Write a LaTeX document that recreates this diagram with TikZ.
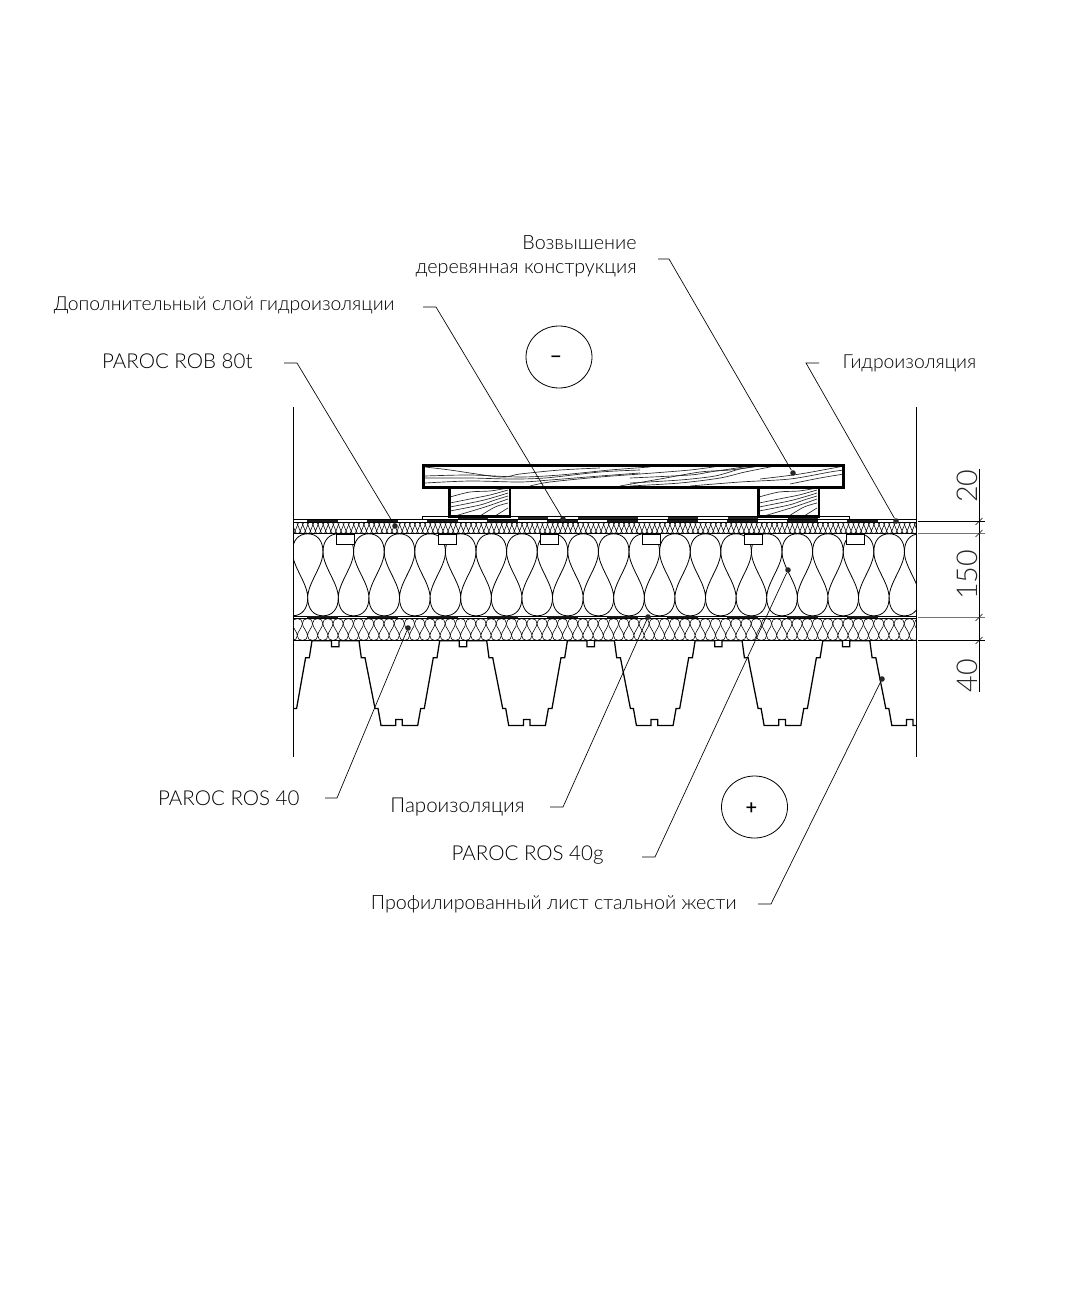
\documentclass[tikz,border=0pt]{standalone}
\usepackage{fontspec}
\setmainfont{Lato Light}
\usetikzlibrary{shapes.geometric}

\tikzset{every picture/.style={line width=0.75pt}}
\tikzset{
	label text/.style={inner sep=0pt,font=\fontsize{14.8}{18}\selectfont,color=black},
	narrow text/.style={inner sep=0pt,font=\fontsize{14.5}{18}\selectfont,color=black},
	paroc text/.style={inner sep=0pt,font=\fontsize{15.4}{18}\selectfont,color=black},
	dim text/.style={inner sep=0pt,rotate=90,font=\fontsize{21.5}{21.5}\selectfont,color=black!85},
	sign text/.style={inner sep=0pt,font=\fontsize{15}{15}\selectfont\bfseries},
	leader/.style={line width=0.5pt},
	leader dot/.style={circle,fill=black!85,inner sep=0pt,minimum size=4.2pt},
	zone/.style={ellipse,draw,line width=0.6pt,inner sep=0pt,minimum width=49.5pt,minimum height=46.5pt},
	thin line/.style={line width=0.45pt},
	wool/.style={line width=0.6pt},
	fine wool/.style={line width=0.42pt},
	grain/.style={line width=0.5pt,black!85},
	timber/.style={line width=2pt},
	deck/.style={line width=0.95pt,line join=miter},
	dim line/.style={line width=0.5pt},
}

% one row of teardrop cells, args: x start, y top, cell width, height, last cell, style
\newcommand{\woolrow}[6]{
	\begin{scope}[shift={(#1,#2)},xscale=#3,yscale=#4]
		\foreach \i in {0,...,#5} {
			\draw [#6] (\i,.78) .. controls (\i,.6) and (\i+.5,.4) .. (\i+.5,.22) .. controls (\i+.5,.08) and (\i+.3,0) .. (\i,0) .. controls (\i-.3,0) and (\i-.5,.08) .. (\i-.5,.22) .. controls (\i-.5,.4) and (\i,.6) .. (\i,.78) ;
			\draw [#6] (\i,.78) .. controls (\i,.92) and (\i+.2,1) .. (\i+.5,1) .. controls (\i+.8,1) and (\i+1,.92) .. (\i+1,.78) ;
		}
	\end{scope}
}

\begin{document}
\begin{tikzpicture}[x=0.75pt,y=0.75pt,yscale=-1,xscale=1]
	\useasboundingbox (0,0) rectangle (1089,1313);

	%Wool layers
	\begin{scope}
		\clip (293,520) rectangle (916,645);
		\woolrow{277.1}{533.8}{30.6}{82}{21}{wool}
		\woolrow{287.1}{618.6}{10.2}{21.8}{62}{fine wool}
		\woolrow{290}{522.2}{5.1}{11.3}{125}{fine wool}
	\end{scope}
	%Small boards under the top layer
	\foreach \x in {336.7,438.7,540.7,642.7,744.7,846.7}
		\draw [thin line,fill=white] (\x,533.8) rectangle ++(17.6,10.6) ;

	%Layer lines
	\draw [thin line] (293,519.3) -- (916,519.3) ;
	\draw [thin line] (293,522.2) -- (916,522.2) ;
	\draw [line width=0.9pt] (293,533.8) -- (916,533.8) ;
	\draw [thin line] (293,616) -- (916,616) ;
	\draw [thin line] (293,618.6) -- (916,618.6) ;
	\draw [line width=0.9pt] (293,640.5) -- (916,640.5) ;
	%Membrane strips
	\foreach \k in {0,...,9} {
		\fill [black!90] (306.7+60*\k,519.5) rectangle ++(31,2.2) ;
		\fill [black!90] (306.7+60*\k,615.9) rectangle ++(31,2.2) ;
	}

	%Steel deck
	\begin{scope}
		\clip (293,635) rectangle (916,730);
		\foreach \i in {0,...,5}
			\draw [deck,shift={(231.3+127.7*\i,640.7)}] (0,0) -- (2.3,17) -- (6,17) -- (16,67.7) -- (19,67.7) -- (22,84.7) -- (36.7,84.7) -- (36.7,78.7) -- (43.3,78.7) -- (43.3,84.7) -- (58.7,84.7) -- (61.7,67.7) -- (65.3,67.7) -- (74.3,17) -- (78,17) -- (80.7,0) -- (100.3,0) -- (100.3,6) -- (107.7,6) -- (107.7,0) -- (127.7,0) ;
	\end{scope}

	%Walls of the section
	\draw [line width=0.7pt] (293,407) -- (293,757) ;
	\draw [line width=0.7pt] (916,407) -- (916,757) ;

	%Base strip under the timber
	\draw [thin line,fill=white] (422.5,516.4) rectangle (849,519.3) ;
	\foreach \x in {458,518,578,608,668,728,788}
		\fill [black!85] (\x,516.8) rectangle ++(30,2) ;

	%Timber grain
	\begin{scope}
		\clip (423,465) rectangle (844,488);
		\foreach \p in {
			{(425,467) (450,470) (500,477) (520,474) (560,470) (600,468)},
			{(425,476) (470,475) (520,477) (560,475) (610,470) (650,467)},
			{(425,478) (470,478) (510,479) (545,478) (600,472) (640,470)},
			{(425,483) (470,481) (520,482) (550,480) (600,476) (640,473)},
			{(530,486) (550,482) (600,477) (640,474) (690,470) (720,466)},
			{(620,486) (660,479) (700,472) (730,470) (760,466)},
			{(630,483) (680,480) (715,476) (740,469) (760,466)},
			{(630,486) (680,483) (720,478) (745,472) (775,466)},
			{(630,478) (690,475) (710,472) (750,466)},
			{(690,486) (740,482) (790,479) (830,472) (844,470)},
			{(760,479) (800,474) (844,466)},
			{(790,484) (820,478) (844,474)}}
			\draw [grain] plot [smooth] coordinates \p ;
	\end{scope}
	\foreach \dx in {0,309} {
		\begin{scope}[xshift=\dx*0.75pt]
			\clip (449,488) rectangle (510,516);
			\foreach \p in {
				{(450,497) (470,492) (490,491) (508,488)},
				{(450,503) (475,498) (490,495) (508,490)},
				{(450,507) (480,501) (495,497) (508,493)},
				{(450,511) (480,505) (495,500) (508,496)},
				{(455,516) (485,507) (508,499)},
				{(480,516) (495,507) (508,503)},
				{(495,516) (508,508)}}
				\draw [grain] plot [smooth] coordinates \p ;
		\end{scope}
	}
	%Timber outlines
	\draw [timber] (423.5,465.5) rectangle (843.5,487.5) ;
	\draw [timber] (449.5,487.5) rectangle (510,516.5) ;
	\draw [timber] (758.5,487.5) rectangle (819,516.5) ;

	%Dimension lines
	\draw [dim line] (979,469) -- (979,692) ;
	\foreach \y/\c in {521.5/black,533.5/black!55,617.5/black!55,640.5/black} {
		\draw [dim line,color=\c] (918,\y) -- (985,\y) ;
		\draw [dim line] (975.5,\y+3.5) -- (982.5,\y-3.5) ;
	}
	% Text Node
	\node [dim text] (dimtop) at (967,486) {20};
	\node [dim text] (dimmid) at (967,575) {150};
	\node [dim text] (dimlow) at (967,675.5) {40};

	%Zones
	\node [zone] (zoneout) at (559,357) {};
	\node [zone] (zonein) at (754.5,807) {};
	\node [sign text] (signout) at (556,360) {−};
	\node [sign text] (signin) at (751.5,809) {+};

	% Text Node
	\node [label text,anchor=base east,align=right] (lblrise) at (637,273) {Возвышение\\деревянная конструкция};
	\node [narrow text,anchor=base east] (lblextra) at (395,310) {Дополнительный слой гидроизоляции};
	\node [paroc text,anchor=base east] (lblrob) at (253,368) {PAROC ROB 80t};
	\node [narrow text,anchor=base west] (lblwater) at (842,368) {Гидроизоляция};
	\node [paroc text,anchor=base east] (lblros) at (300,805) {PAROC ROS 40};
	\node [paroc text,anchor=base east] (lblvapor) at (525,812) {Пароизоляция};
	\node [paroc text,anchor=base east] (lblrosg) at (604,860) {PAROC ROS 40g};
	\node [label text,anchor=base east] (lblsheet) at (737,909) {Профилированный лист стальной жести};

	%Leader ends
	\node [leader dot] (dotrise) at (793,473) {};
	\node [leader dot] (dotextra) at (563,519) {};
	\node [leader dot] (dotrob) at (395,526) {};
	\node [leader dot] (dotwater) at (896,521) {};
	\node [leader dot] (dotros) at (408,628) {};
	\node [leader dot] (dotvapor) at (648,617) {};
	\node [leader dot] (dotrosg) at (788,570) {};
	\node [leader dot] (dotsheet) at (882,679) {};

	%Straight Lines
	\draw [leader] (658,259) -- (669,259) -- (dotrise) ;
	\draw [leader] (423,307) -- (436,307) -- (dotextra) ;
	\draw [leader] (284,363) -- (297,363) -- (dotrob) ;
	\draw [leader] (819,363) -- (806,363) -- (dotwater) ;
	\draw [leader] (325,798) -- (337,798) -- (dotros) ;
	\draw [leader] (550,807) -- (563,807) -- (dotvapor) ;
	\draw [leader] (642,857) -- (655,857) -- (dotrosg) ;
	\draw [leader] (758,904) -- (771,904) -- (dotsheet) ;
\end{tikzpicture}
\end{document}
